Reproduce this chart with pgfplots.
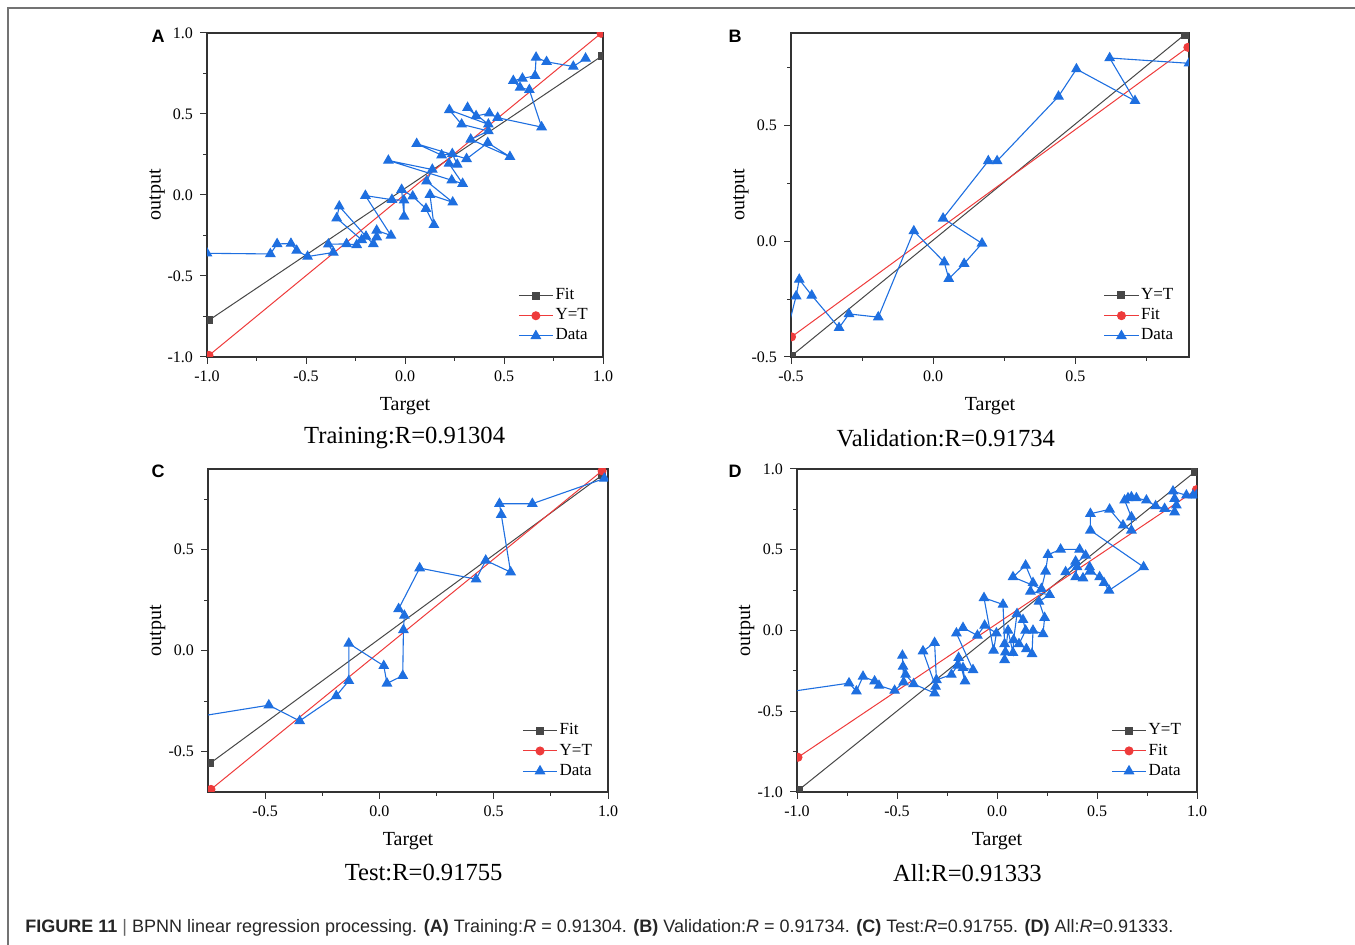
\documentclass[border=0pt]{standalone}
\usepackage{pgfplots}
\pgfplotsset{compat=1.18}
\usepackage{fontspec}
\setmainfont{Liberation Serif}
\newfontfamily\capfont{Liberation Sans}

\definecolor{fitgray}{HTML}{474747}
\definecolor{ytred}{HTML}{EE3B3B}
\definecolor{datablue}{HTML}{1E6FE0}

\pgfplotsset{
  every axis title shift=0pt,
  reg/.style={
    scale only axis,
    axis line style={line width=0.6pt, black!80},
    tick align=outside,
    xtick pos=lower, ytick pos=left,
    tick style={black!80, line width=0.5pt},
    major tick length=3.5pt,
    minor tick length=2pt,
    minor tick num=1,
    tick label style={font=\fontsize{8}{9}\selectfont},
    label style={font=\fontsize{9.5}{11}\selectfont},
    title style={font=\fontsize{12.3}{14}\selectfont},
    clip marker paths=true,
    legend style={draw=none, fill=none, font=\fontsize{8.5}{10}\selectfont,
      at={(axis description cs:0.785,0.219)}, anchor=north west, inner sep=0pt,
      nodes={inner sep=1pt}, row sep=1pt},
    legend cell align=left,
    xlabel=Target, ylabel=output,
    every axis y label/.style={at={(axis description cs:-0.126,0.5)}, anchor=center, rotate=90},
    every axis x label/.style={at={(axis description cs:0.5,-0.152)}, anchor=center},
  },
  fitline/.style={fitgray, line width=0.5pt, mark=square*, mark size=1.75pt},
  ytline/.style={ytred, line width=0.5pt, mark=*, mark size=2pt},
  dataline/.style={datablue, line width=0.55pt, mark=triangle*, mark size=2.6pt},
}

\begin{document}
\begin{tikzpicture}
\useasboundingbox (0,0) rectangle (677.5pt,472.5pt);
% frame
\draw[black!55, line width=0.7pt] (4pt,0pt) -- (4pt,468.5pt) -- (677.5pt,468.5pt);

% ---------- A ----------
\begin{axis}[reg, at={(103.5pt,294pt)}, anchor=south west, width=198pt, height=162pt,
  xmin=-1, xmax=1, ymin=-1, ymax=1,
  xtick={-1,-0.5,0,0.5,1}, xticklabels={-1.0,-0.5,0.0,0.5,1.0},
  ytick={-1,-0.5,0,0.5,1}, yticklabels={-1.0,-0.5,0.0,0.5,1.0},
  title={Training:R=0.91304}, title style={at={(axis description cs:0.499,-0.25)}, anchor=center}]
\addplot[fitline] coordinates {(-0.99,-0.773) (0.997,0.860)};
\addplot[ytline] coordinates {(-0.99,-0.99) (0.99,0.998)};
\addplot[dataline] coordinates {
(-1.0,-0.36) (-0.680,-0.364) (-0.646,-0.302) (-0.576,-0.300) (-0.547,-0.343)
(-0.492,-0.380) (-0.362,-0.355) (-0.387,-0.304) (-0.295,-0.302) (-0.244,-0.308)
(-0.219,-0.277) (-0.345,-0.143) (-0.332,-0.070) (-0.197,-0.256) (-0.160,-0.302)
(-0.143,-0.260) (-0.143,-0.219) (-0.071,-0.250) (-0.200,-0.004) (-0.066,-0.029)
(-0.005,-0.033) (-0.005,-0.132) (-0.017,0.033) (0.039,-0.008) (0.106,-0.085)
(0.146,-0.184) (0.126,0.002) (0.241,-0.045) (0.109,0.085) (0.138,0.157)
(-0.084,0.213) (0.236,0.091) (0.291,0.070) (0.222,0.194) (0.264,0.188)
(0.239,0.254) (0.185,0.246) (0.059,0.316) (0.311,0.223) (0.418,0.322)
(0.530,0.236) (0.332,0.343) (0.421,0.395) (0.286,0.436) (0.224,0.525)
(0.421,0.436) (0.316,0.539) (0.359,0.488) (0.426,0.504) (0.468,0.477)
(0.690,0.419) (0.628,0.649) (0.581,0.663) (0.547,0.705) (0.593,0.719)
(0.657,0.736) (0.662,0.849) (0.715,0.822) (0.850,0.793) (0.912,0.843)};
\legend{Fit, Y=T, Data}
\end{axis}

% ---------- B ----------
\begin{axis}[reg, at={(395.5pt,294pt)}, anchor=south west, width=199pt, height=162pt,
  xmin=-0.5, xmax=0.9, ymin=-0.5, ymax=0.9,
  xtick={-0.5,0,0.5}, xticklabels={-0.5,0.0,0.5}, minor xtick={-0.25,0.25,0.75},
  ytick={-0.5,0,0.5}, yticklabels={-0.5,0.0,0.5}, minor ytick={-0.25,0.25,0.75},
  title={Validation:R=0.91734}, title style={at={(axis description cs:0.389,-0.25)}, anchor=center}]
\addplot[fitline] coordinates {(-0.498,-0.495) (0.885,0.893)};
\addplot[ytline] coordinates {(-0.498,-0.413) (0.896,0.838)};
\addplot[dataline] coordinates {
(-0.52,-0.42) (-0.482,-0.237) (-0.471,-0.165) (-0.427,-0.234) (-0.331,-0.374)
(-0.296,-0.314) (-0.193,-0.328) (-0.068,0.044) (0.039,-0.090) (0.055,-0.162)
(0.109,-0.097) (0.172,-0.009) (0.035,0.099) (0.194,0.347) (0.225,0.347)
(0.441,0.626) (0.504,0.744) (0.710,0.607) (0.621,0.792) (0.900,0.769)};
\legend{Y=T, Fit, Data}
\end{axis}

% ---------- C ----------
\begin{axis}[reg, at={(104pt,76.5pt)}, anchor=south west, width=200pt, height=161.5pt,
  xmin=-0.75, xmax=1, ymin=-0.7, ymax=0.9,
  xtick={-0.5,0,0.5,1}, xticklabels={-0.5,0.0,0.5,1.0},
  ytick={-0.5,0,0.5}, yticklabels={-0.5,0.0,0.5}, minor ytick={-0.25,0.25,0.75},
  title={Test:R=0.91755}, title style={at={(axis description cs:0.539,-0.25)}, anchor=center}]
\addplot[fitline] coordinates {(-0.741,-0.558) (0.974,0.869)};
\addplot[ytline] coordinates {(-0.737,-0.687) (0.974,0.891)};
\addplot[dataline] coordinates {
(-0.78,-0.324) (-0.484,-0.270) (-0.349,-0.348) (-0.189,-0.224) (-0.134,-0.149)
(-0.134,0.036) (0.019,-0.075) (0.033,-0.162) (0.102,-0.124) (0.105,0.103)
(0.109,0.174) (0.084,0.207) (0.176,0.409) (0.423,0.354) (0.465,0.447)
(0.574,0.389) (0.533,0.674) (0.525,0.728) (0.669,0.728) (0.984,0.853)};
\legend{Fit, Y=T, Data}
\end{axis}

% ---------- D ----------
\begin{axis}[reg, at={(398.5pt,76.5pt)}, anchor=south west, width=200pt, height=161.5pt,
  xmin=-1, xmax=1, ymin=-1, ymax=1,
  xtick={-1,-0.5,0,0.5,1}, xticklabels={-1.0,-0.5,0.0,0.5,1.0},
  ytick={-1,-0.5,0,0.5,1}, yticklabels={-1.0,-0.5,0.0,0.5,1.0},
  title={All:R=0.91333}, title style={at={(axis description cs:0.426,-0.25)}, anchor=center}]
\addplot[fitline] coordinates {(-0.992,-0.988) (0.988,0.981)};
\addplot[ytline] coordinates {(-0.995,-0.785) (0.997,0.872)};
\addplot[dataline] coordinates {
(-1.02,-0.376) (-0.740,-0.326) (-0.703,-0.376) (-0.670,-0.285) (-0.612,-0.314)
(-0.590,-0.341) (-0.512,-0.372) (-0.467,-0.320) (-0.473,-0.155) (-0.470,-0.223)
(-0.457,-0.273) (-0.417,-0.331) (-0.312,-0.388) (-0.307,-0.347) (-0.370,-0.128)
(-0.312,-0.076) (-0.303,-0.306) (-0.228,-0.273) (-0.198,-0.217) (-0.192,-0.169)
(-0.160,-0.314) (-0.170,-0.231) (-0.120,-0.244) (-0.203,-0.017) (-0.170,0.017)
(-0.098,-0.031) (-0.062,0.031) (-0.003,-0.017) (-0.017,-0.124) (-0.065,0.202)
(0.030,0.161) (0.038,-0.083) (0.042,-0.134) (0.038,-0.182) (0.055,0.000)
(0.080,-0.138) (0.083,-0.058) (0.100,0.103) (0.130,0.066) (0.143,0.000)
(0.110,-0.083) (0.147,-0.114) (0.175,-0.145) (0.180,0.000) (0.230,-0.021)
(0.238,0.079) (0.210,0.180) (0.263,0.221) (0.167,0.242) (0.180,0.295)
(0.143,0.403) (0.080,0.331) (0.222,0.258) (0.243,0.366) (0.255,0.469)
(0.318,0.502) (0.413,0.502) (0.443,0.465) (0.343,0.362) (0.393,0.428)
(0.400,0.393) (0.393,0.331) (0.430,0.324) (0.463,0.393) (0.468,0.366)
(0.513,0.331) (0.535,0.295) (0.560,0.248) (0.733,0.393) (0.467,0.620)
(0.467,0.723) (0.563,0.750) (0.630,0.651) (0.672,0.620) (0.672,0.702)
(0.638,0.806) (0.655,0.820) (0.672,0.826) (0.697,0.820) (0.747,0.806)
(0.793,0.771) (0.838,0.754) (0.888,0.733) (0.897,0.775) (0.888,0.816)
(0.880,0.862) (0.947,0.837) (0.980,0.837) (0.997,0.837)};
\legend{Y=T, Fit, Data}
\end{axis}

% panel letters
\node[font=\capfont\bfseries\fontsize{9}{10}\selectfont] at (79pt,454.5pt) {A};
\node[font=\capfont\bfseries\fontsize{9}{10}\selectfont] at (367.5pt,454.5pt) {B};
\node[font=\capfont\bfseries\fontsize{9}{10}\selectfont] at (79pt,237pt) {C};
\node[font=\capfont\bfseries\fontsize{9}{10}\selectfont] at (367.5pt,237pt) {D};

% caption
\node[anchor=west, inner sep=0pt, text=black!85] at (12.5pt,8.5pt) {\capfont\fontsize{9}{10}\selectfont
\textbf{FIGURE 11} {\color{black!60}|} BPNN linear regression processing. \textbf{(A)} Training:\textit{R} = 0.91304. \textbf{(B)} Validation:\textit{R} = 0.91734. \textbf{(C)} Test:\textit{R}=0.91755. \textbf{(D)} All:\textit{R}=0.91333.};
\end{tikzpicture}
\end{document}
